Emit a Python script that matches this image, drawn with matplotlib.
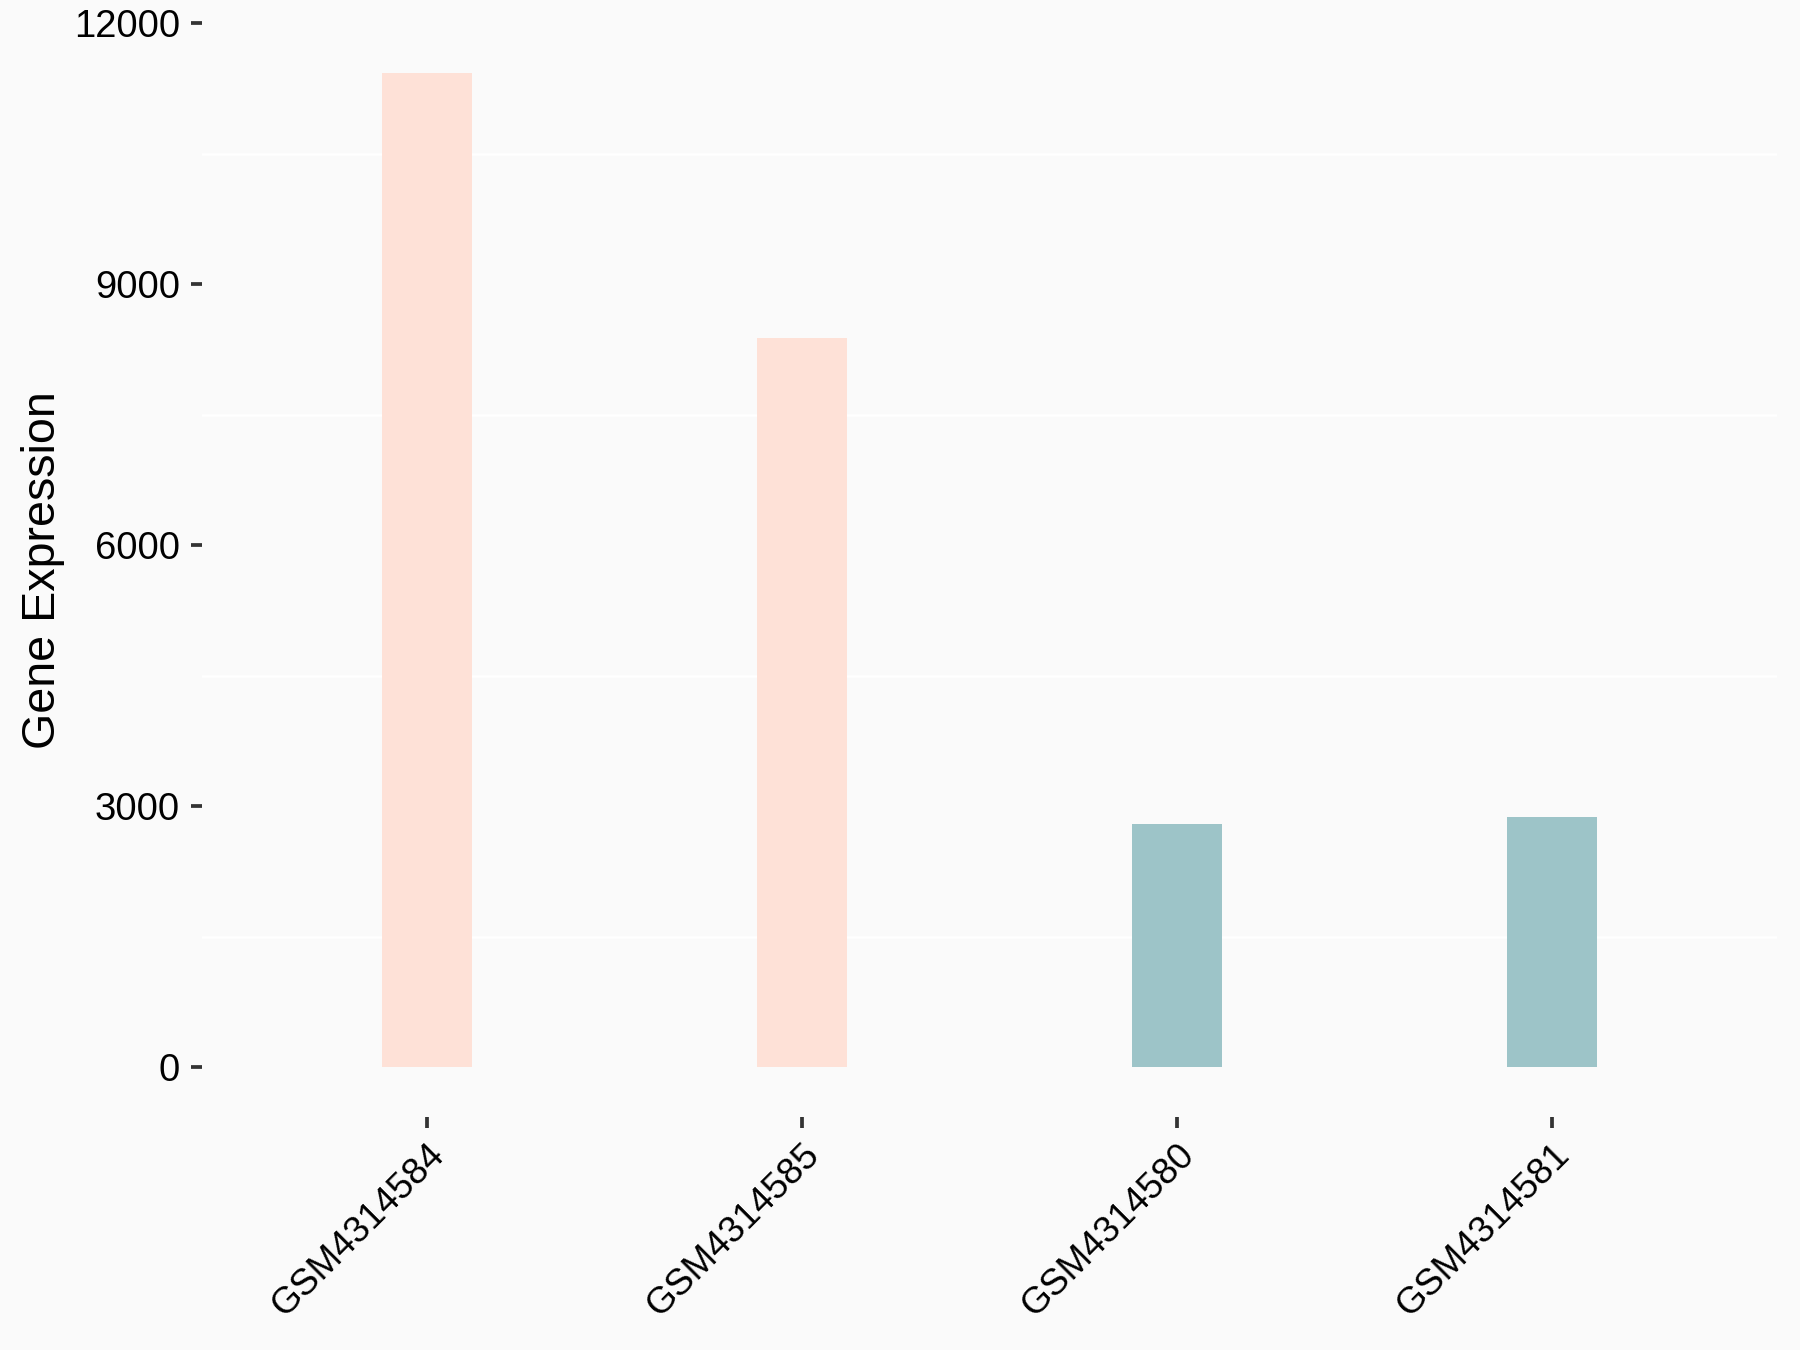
import matplotlib
matplotlib.use('Agg')
import matplotlib.pyplot as plt
from matplotlib.ticker import MultipleLocator

samples = ['GSM4314584', 'GSM4314585', 'GSM4314580', 'GSM4314581']
expression = [11430, 8375, 2795, 2880]
groups = ['A', 'A', 'B', 'B']
group_colors = {'A': '#FEE1D7', 'B': '#9DC4C8'}

plt.rcParams['font.family'] = ['Liberation Sans', 'DejaVu Sans']

fig = plt.figure(figsize=(6, 4.5), dpi=300, facecolor='#FAFAFA')
ax = fig.add_axes([0.1122, 0.1726, 0.875, 0.8107])
ax.set_facecolor('#FAFAFA')

x = range(1, len(samples) + 1)
ax.bar(x, expression, width=0.24, color=[group_colors[g] for g in groups], zorder=2)

ax.set_xlim(0.4, 4.6)
ax.set_ylim(-572, 12005)
ax.yaxis.set_major_locator(MultipleLocator(3000))
ax.yaxis.set_minor_locator(MultipleLocator(1500))
ax.grid(which='minor', axis='y', color='white', linewidth=0.6, zorder=1)
ax.grid(which='major', visible=False)

for s in ax.spines.values():
    s.set_visible(False)

ax.set_xticks(list(x))
ax.set_xticklabels(samples, rotation=45, ha='right', va='top', rotation_mode='anchor')
ax.tick_params(axis='both', which='major', length=2.7, width=0.9, color='#333333',
               labelsize=9.2, labelcolor='black', pad=2.6)
ax.tick_params(axis='x', which='major', labelsize=8.9, pad=2.2)
ax.tick_params(axis='y', which='minor', length=0)
ax.set_ylabel('Gene Expression', fontsize=11.2)
ax.yaxis.set_label_coords(-0.087, 0.5)

fig.savefig('out.png', dpi=300, facecolor='#FAFAFA')
